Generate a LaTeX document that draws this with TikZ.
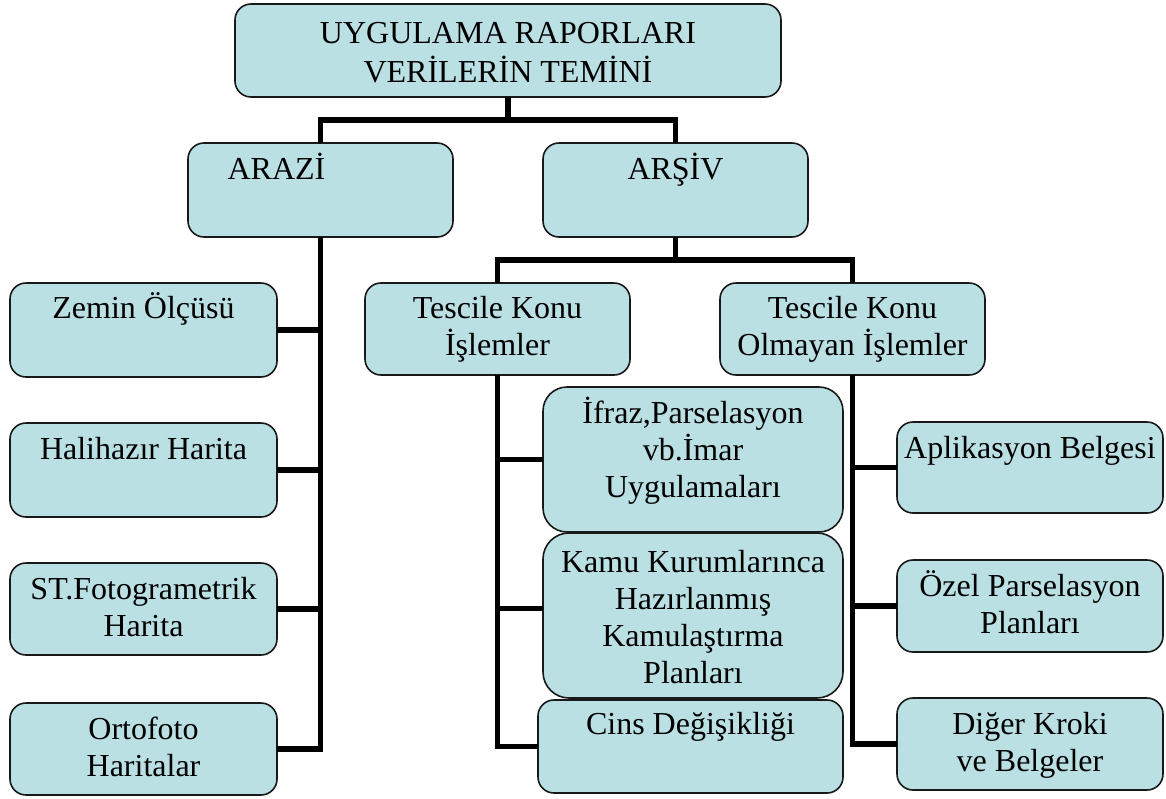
\documentclass[tikz,border=0pt]{standalone}
\usepackage{fontspec}
\setmainfont{Liberation Serif}
\definecolor{boxfill}{RGB}{186,224,228}
\newcommand\firststrut{\rule{0pt}{30pt}}
\begin{document}
\begin{tikzpicture}[x=1pt,y=-1pt,
  box/.style={draw=black!90, line width=1.6pt, fill=boxfill, rounded corners=16pt,
    anchor=north west, inner sep=0pt, outer sep=0pt},
  txt/.style={anchor=north, align=center, inner sep=0pt,
    font=\fontsize{32}{37}\selectfont},
  conn/.style={line width=5.6pt, black}]
\useasboundingbox (0,0) rectangle (1166,798);

% boxes
\node[box, minimum width=546pt, minimum height=93pt] (top) at (235,4) {};
\node[box, minimum width=265pt, minimum height=94pt] (arazi) at (188,143) {};
\node[box, minimum width=265pt, minimum height=94pt] (arsiv) at (543,143) {};
\node[box, minimum width=267pt, minimum height=94pt] (zemin) at (10,283) {};
\node[box, minimum width=267pt, minimum height=94pt] (hali) at (10,423) {};
\node[box, minimum width=267pt, minimum height=92pt] (st) at (10,563) {};
\node[box, minimum width=267pt, minimum height=92pt] (orto) at (10,703) {};
\node[box, minimum width=265pt, minimum height=92pt] (tki) at (365,283) {};
\node[box, minimum width=265pt, minimum height=92pt] (tkoi) at (720,283) {};
\node[box, rounded corners=24pt, minimum width=300pt, minimum height=145pt] (ifraz) at (543,387) {};
\node[box, rounded corners=26pt, minimum width=300pt, minimum height=165pt] (kamu) at (543,533) {};
\node[box, minimum width=305pt, minimum height=93pt] (cins) at (538,700) {};
\node[box, minimum width=266pt, minimum height=91pt] (apl) at (897,422) {};
\node[box, minimum width=266pt, minimum height=92pt] (ozel) at (897,560) {};
\node[box, minimum width=266pt, minimum height=92pt] (diger) at (897,698) {};

% texts
\node[txt, font=\fontsize{32}{39}\selectfont] (ttop) at ([yshift=-9pt]top.north) {\firststrut UYGULAMA RAPORLARI\\VERİLERİN TEMİNİ};
\node[txt] (tarazi) at ([yshift=-6pt,xshift=-44pt]arazi.north) {\firststrut ARAZİ};
\node[txt] (tarsiv) at ([yshift=-6pt]arsiv.north) {\firststrut ARŞİV};
\node[txt] (tzemin) at ([yshift=-5pt]zemin.north) {\firststrut Zemin Ölçüsü};
\node[txt] (thali) at ([yshift=-6pt]hali.north) {\firststrut Halihazır Harita};
\node[txt] (tst) at ([yshift=-6pt]st.north) {\firststrut ST.Fotogrametrik\\Harita};
\node[txt] (torto) at ([yshift=-6pt]orto.north) {\firststrut Ortofoto\\Haritalar};
\node[txt] (ttki) at ([yshift=-5pt]tki.north) {\firststrut Tescile Konu\\İşlemler};
\node[txt] (ttkoi) at ([yshift=-5pt]tkoi.north) {\firststrut Tescile Konu\\Olmayan İşlemler};
\node[txt] (tifraz) at ([yshift=-6pt]ifraz.north) {\firststrut İfraz,Parselasyon\\vb.İmar\\Uygulamaları};
\node[txt] (tkamu) at ([yshift=-9pt]kamu.north) {\firststrut Kamu Kurumlarınca\\Hazırlanmış\\Kamulaştırma\\Planları};
\node[txt] (tcins) at ([yshift=-4pt]cins.north) {\firststrut Cins Değişikliği};
\node[txt] (tapl) at ([yshift=-6pt]apl.north) {\firststrut Aplikasyon Belgesi};
\node[txt] (tozel) at ([yshift=-6pt]ozel.north) {\firststrut Özel Parselasyon\\Planları};
\node[txt] (tdiger) at ([yshift=-6pt]diger.north) {\firststrut Diğer Kroki\\ve Belgeler};

% connectors
\draw[conn] (top.south) -- ++(0,23) coordinate (j1);
\draw[conn] (arazi.north) |- (j1) -| (arsiv.north);
\draw[conn] (arsiv.south) -- ++(0,23) coordinate (j2);
\draw[conn] (tki.north) |- (j2) -| (tkoi.north);

\draw[conn] (arazi.south) -- (arazi.south |- orto.east) -- (orto.east);
\draw[conn] (zemin.east) -- (zemin.east -| arazi.south);
\draw[conn] (hali.east) -- (hali.east -| arazi.south);
\draw[conn] (st.east) -- (st.east -| arazi.south);

\draw[conn] (tki.south) -- (tki.south |- cins.west) -- (cins.west);
\draw[conn] (ifraz.west) -- (ifraz.west -| tki.south);
\draw[conn] ([yshift=7pt]kamu.west) -- ([yshift=7pt]kamu.west -| tki.south);

\draw[conn] (tkoi.south) -- (tkoi.south |- diger.west) -- (diger.west);
\draw[conn] (apl.west) -- (apl.west -| tkoi.south);
\draw[conn] (ozel.west) -- (ozel.west -| tkoi.south);
\end{tikzpicture}
\end{document}
